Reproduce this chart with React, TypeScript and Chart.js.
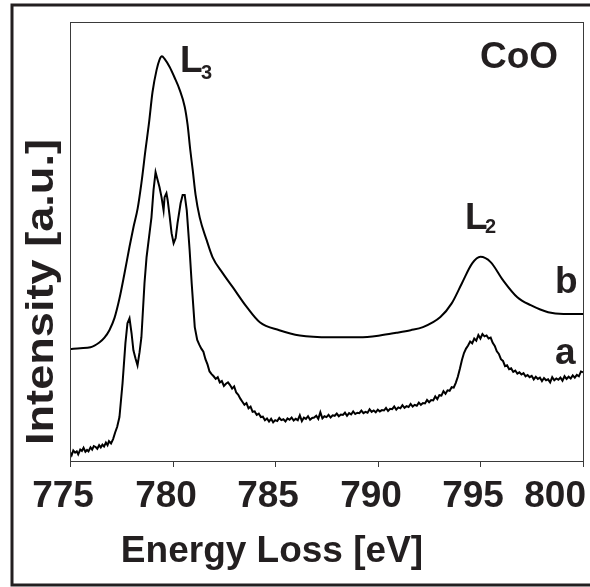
import React, { useEffect, useRef } from "react";
import { Chart, registerables } from "chart.js";

Chart.register(...registerables);

// Energy-axis ticks (eV)
const xTicks = [775, 780, 785, 790, 795, 800];

// Spectrum b (smooth): [energy eV, intensity a.u.]
const spectrumB: [number, number][] = [
  [775.0, 25.5], [775.5, 25.7], [776.0, 25.9], [776.43, 27.0], [776.68, 28.1],
  [776.92, 29.8], [777.17, 32.6], [777.41, 37.0], [777.65, 42.6], [777.9, 48.8],
  [778.1, 53.4], [778.3, 57.6], [778.48, 63.3], [778.68, 70.9], [778.85, 77.0],
  [779.02, 84.0], [779.22, 89.1], [779.36, 91.4], [779.48, 92.2], [779.61, 91.6],
  [779.85, 89.8], [780.1, 87.3], [780.34, 84.6], [780.59, 80.7], [780.73, 76.6],
  [780.86, 70.9], [780.98, 66.3], [781.12, 60.6], [781.32, 55.5], [781.66, 50.3],
  [781.95, 46.4], [782.44, 42.8], [782.93, 39.6], [783.61, 35.1], [784.25, 31.6],
  [785.2, 29.8], [786.2, 28.6], [787.7, 28.2], [789.1, 28.2], [790.1, 28.6],
  [790.9, 29.2], [791.6, 29.8], [792.2, 30.5], [793.05, 32.8], [793.6, 35.9],
  [794.1, 40.5], [794.6, 45.0], [795.0, 46.5], [795.5, 45.3], [796.1, 41.2],
  [796.8, 37.3], [797.45, 35.5], [798.3, 33.9], [799.05, 33.5], [800.0, 33.5],
];

// Spectrum a (noisy): [energy eV, intensity a.u.]
const spectrumA: [number, number][] = [
  [775.0, 2.0], [775.08, 1.3], [775.16, 2.4], [775.25, 1.9], [775.33, 2.2], [775.4, 1.5],
  [775.5, 2.6], [775.58, 2.3], [775.66, 3.0], [775.75, 2.1], [775.83, 2.5], [775.9, 2.2],
  [776.0, 3.1], [776.08, 2.6], [776.16, 3.4], [776.25, 3.2], [776.33, 2.8], [776.42, 3.6],
  [776.5, 3.1], [776.58, 3.7], [776.66, 3.3], [776.75, 4.2], [776.83, 3.6], [776.9, 4.5],
  [777.0, 4.0], [777.1, 5.0], [777.2, 6.5], [777.3, 7.8],
  [777.41, 10.0], [777.56, 17.7], [777.7, 26.8], [777.8, 31.4], [777.9, 32.5],
  [778.0, 29.1], [778.09, 25.2], [778.19, 23.4], [778.29, 21.8], [778.39, 24.8],
  [778.48, 28.2], [778.63, 40.5], [778.73, 46.4], [778.88, 52.1], [778.97, 55.5],
  [779.07, 61.7], [779.17, 65.8], [779.27, 64.0], [779.36, 62.4], [779.46, 60.1],
  [779.56, 57.1], [779.61, 60.1], [779.66, 60.6], [779.7, 61.0], [779.76, 59.4],
  [779.85, 56.0], [779.95, 51.9], [780.05, 49.6], [780.15, 50.8], [780.24, 54.2],
  [780.39, 58.7], [780.49, 60.6], [780.59, 60.6], [780.69, 57.1], [780.83, 48.0],
  [780.93, 40.5], [781.08, 30.5], [781.2, 27.6], [781.3, 26.5], [781.4, 25.6],
  [781.5, 24.9], [781.6, 23.2], [781.7, 22.0], [781.8, 20.4], [781.9, 19.8],
  [782.0, 19.3], [782.1, 18.7], [782.2, 19.1], [782.3, 17.9], [782.4, 18.2],
  [782.5, 17.1], [782.6, 17.6], [782.7, 17.9], [782.8, 17.3], [782.9, 16.5],
  [783.0, 17.0], [783.1, 15.6], [783.2, 15.1], [783.3, 14.2], [783.4, 13.5],
  [783.5, 12.8], [783.6, 13.2], [783.7, 12.0], [783.8, 12.4], [783.9, 11.2],
  [784.0, 11.3], [784.1, 10.5], [784.2, 10.8], [784.3, 10.0], [784.4, 10.1],
  [784.5, 9.3], [784.6, 9.7], [784.7, 9.0], [784.8, 9.6], [784.9, 8.8], [785.0, 9.3],
  [785.1, 9.1], [785.2, 9.8], [785.3, 9.3], [785.4, 9.5], [785.5, 9.0], [785.6, 9.7],
  [785.7, 9.4], [785.8, 9.9], [785.9, 9.2], [786.0, 9.6], [786.1, 9.3], [786.2, 10.4],
  [786.3, 9.1], [786.4, 9.9], [786.5, 9.6], [786.6, 10.2], [786.7, 9.4], [786.8, 9.8],
  [786.9, 9.9], [787.0, 10.3], [787.1, 9.6], [787.2, 11.1], [787.3, 9.7], [787.4, 10.2],
  [787.5, 10.0], [787.6, 10.5], [787.7, 9.9], [787.8, 10.4], [787.9, 10.3], [788.0, 10.8],
  [788.1, 10.2], [788.2, 10.6], [788.3, 10.5], [788.4, 11.0], [788.5, 10.3], [788.6, 10.9],
  [788.7, 10.6], [788.8, 11.3], [788.9, 10.7], [789.0, 11.0], [789.1, 10.9], [789.2, 11.5],
  [789.3, 10.9], [789.4, 11.2], [789.5, 11.0], [789.6, 11.8], [789.7, 11.2], [789.8, 11.5],
  [789.9, 11.1], [790.0, 11.7], [790.1, 11.3], [790.2, 11.6], [790.3, 11.5], [790.4, 12.1],
  [790.5, 11.4], [790.6, 11.9], [790.7, 11.8], [790.8, 12.4], [790.9, 11.7], [791.0, 12.2],
  [791.1, 12.0], [791.2, 12.7], [791.3, 12.1], [791.4, 12.5], [791.5, 12.3], [791.6, 13.0],
  [791.7, 12.4], [791.8, 12.8], [791.9, 12.6], [792.0, 13.3], [792.1, 12.8], [792.2, 13.2],
  [792.3, 13.1], [792.4, 13.9], [792.5, 13.4], [792.6, 13.9], [792.7, 13.8], [792.8, 14.7],
  [792.9, 14.1], [793.0, 15.0], [793.1, 14.9], [793.2, 15.9], [793.3, 15.3], [793.4, 16.1],
  [793.5, 16.0], [793.6, 16.8], [793.7, 16.7], [793.8, 17.8], [793.9, 19.2], [794.0, 21.0],
  [794.1, 23.0], [794.2, 24.6], [794.3, 25.6], [794.4, 26.3], [794.5, 27.2], [794.6, 26.8],
  [794.7, 27.9], [794.8, 27.4], [794.9, 28.7], [795.0, 27.9], [795.1, 28.9], [795.2, 28.4],
  [795.3, 28.6], [795.4, 27.9], [795.5, 28.1], [795.6, 26.9], [795.7, 26.2], [795.8, 25.0],
  [795.9, 24.4], [796.0, 23.2], [796.1, 22.8], [796.2, 21.6], [796.3, 21.8], [796.4, 20.9],
  [796.5, 21.1], [796.6, 20.3], [796.7, 20.6], [796.8, 19.9], [796.9, 20.2], [797.0, 19.7],
  [797.1, 20.0], [797.2, 19.3], [797.3, 19.6], [797.4, 19.1], [797.5, 19.4], [797.6, 18.6],
  [797.7, 19.2], [797.8, 18.7], [797.9, 19.0], [798.0, 18.2], [798.1, 18.9], [798.2, 18.4],
  [798.3, 18.6], [798.4, 17.9], [798.5, 19.1], [798.6, 18.4], [798.7, 18.8], [798.8, 18.5],
  [798.9, 19.0], [799.0, 18.3], [799.1, 19.3], [799.2, 18.7], [799.3, 19.2], [799.4, 18.8],
  [799.5, 19.5], [799.6, 19.0], [799.7, 19.6], [799.8, 19.3], [799.9, 20.4], [800.0, 20.2],
];

const xTitle = "Energy Loss [eV]";
const yTitle = "Intensity [a.u.]";
const sampleLabel = "CoO";

const TEXT = "#231f20";
const FONT = '"Liberation Sans", Arial, Helvetica, sans-serif';

const decorPlugin = {
  id: "decor",
  beforeDraw(chart: any) {
    const ctx = chart.ctx;
    ctx.save();
    ctx.fillStyle = "#ffffff";
    ctx.fillRect(0, 0, chart.width, chart.height);
    ctx.restore();
  },
  afterDraw(chart: any) {
    const ctx = chart.ctx;
    const { left, right, top, bottom } = chart.chartArea;
    const xs = chart.scales.x;
    ctx.save();
    // outer frame
    ctx.strokeStyle = TEXT;
    ctx.lineWidth = 3;
    ctx.strokeRect(12, 5, 580, 580);
    // plot box
    ctx.strokeStyle = "#3a3a3a";
    ctx.lineWidth = 1;
    ctx.strokeRect(left + 0.5, top + 0.5, right - left, bottom - top);
    // ticks + labels
    ctx.fillStyle = TEXT;
    ctx.font = `bold 37px ${FONT}`;
    ctx.textBaseline = "alphabetic";
    ctx.textAlign = "center";
    xTicks.forEach((t) => {
      const px = Math.round(xs.getPixelForValue(t)) + 0.5;
      ctx.beginPath();
      ctx.moveTo(px, bottom);
      ctx.lineTo(px, bottom + 6);
      ctx.stroke();
      const label = String(t);
      const w = ctx.measureText(label).width;
      let cx = px - 7.5;
      if (cx + w / 2 > 586) cx = 586 - w / 2;
      ctx.fillText(label, cx, 507);
    });
    // x title
    ctx.fillText(xTitle, 272, 562);
    // y title (stretched along its length to match the reference)
    ctx.save();
    ctx.translate(53, 292);
    ctx.rotate(-Math.PI / 2);
    ctx.font = `bold 39px ${FONT}`;
    ctx.textAlign = "center";
    const tw = ctx.measureText(yTitle).width;
    ctx.scale(306 / tw, 1);
    ctx.fillText(yTitle, 0, 0);
    ctx.restore();
    // annotations
    ctx.textAlign = "left";
    ctx.font = `bold 37px ${FONT}`;
    ctx.fillText(sampleLabel, 480, 68);
    ctx.fillText("L", 180, 72);
    ctx.fillText("L", 465, 229);
    ctx.fillText("b", 555, 293);
    ctx.fillText("a", 555, 364);
    ctx.font = `bold 20px ${FONT}`;
    ctx.fillText("3", 201, 79);
    ctx.fillText("2", 485, 233);
    ctx.restore();
  },
};

export default function App() {
  const ref = useRef<HTMLCanvasElement>(null);
  useEffect(() => {
    document.body.style.margin = "0";
    const canvas = ref.current!;
    const chart = new Chart(canvas, {
      type: "line",
      data: {
        datasets: [
          {
            label: "b",
            data: spectrumB.map(([x, y]) => ({ x, y })),
            borderColor: "#000",
            borderWidth: 2,
            pointRadius: 0,
            cubicInterpolationMode: "monotone",
          },
          {
            label: "a",
            data: spectrumA.map(([x, y]) => ({ x, y })),
            borderColor: "#000",
            borderWidth: 2,
            pointRadius: 0,
            tension: 0,
          },
        ],
      },
      options: {
        responsive: false,
        animation: false,
        layout: { padding: { left: 70, top: 22, right: 7, bottom: 126 } },
        plugins: { legend: { display: false }, tooltip: { enabled: false } },
        scales: {
          x: { type: "linear", min: 775, max: 800, display: false },
          y: { type: "linear", min: 0, max: 100, display: false },
        },
      },
      plugins: [decorPlugin],
    });
    return () => chart.destroy();
  }, []);
  return (
    <div style={{ width: 590, height: 587 }}>
      <canvas ref={ref} width={590} height={587} style={{ display: "block" }} />
    </div>
  );
}
